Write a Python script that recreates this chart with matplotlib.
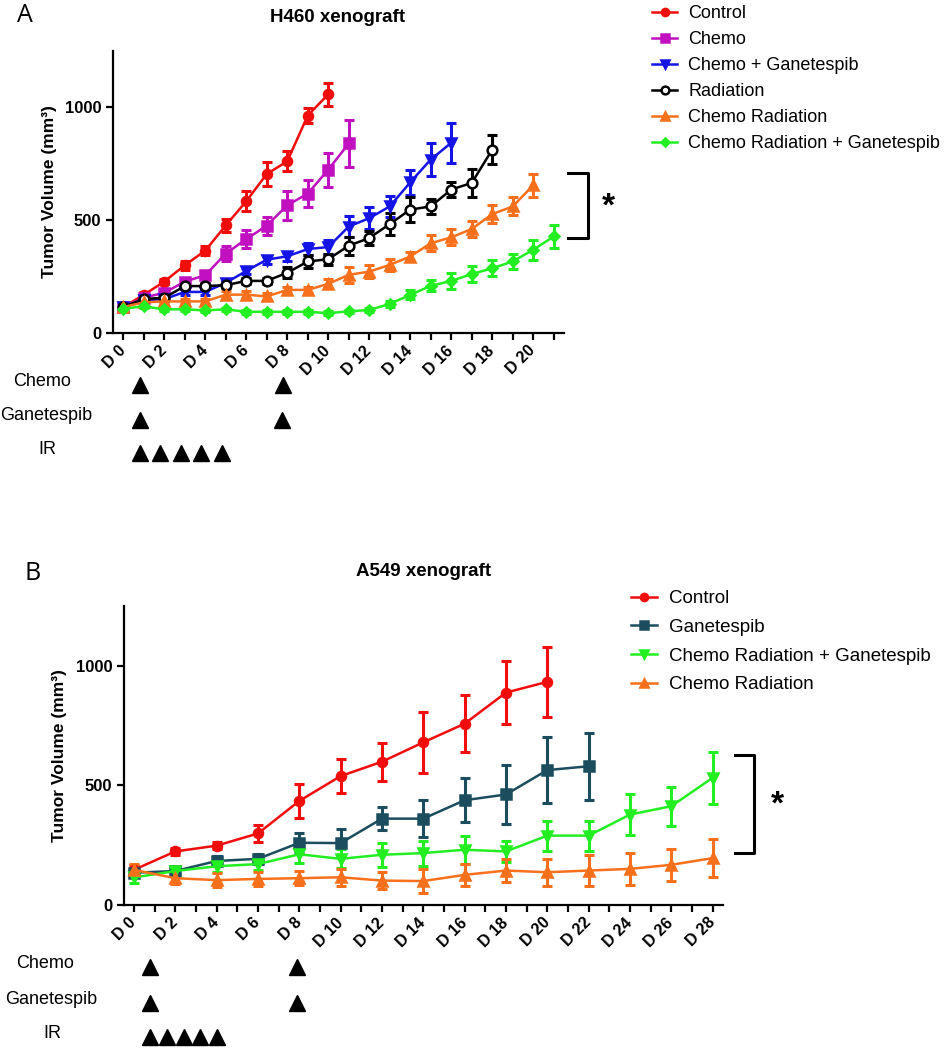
import matplotlib
matplotlib.use("Agg")
import matplotlib.pyplot as plt
from matplotlib.transforms import blended_transform_factory

plt.rcParams['font.family'] = ['Liberation Sans', 'DejaVu Sans']

W, H = 946, 1050

# ---------------- data: panel A (H460) ----------------
a_days = list(range(0, 22))
a_control = [115, 169, 228, 300, 365, 477, 584, 705, 761, 964, 1058]
a_control_err = [8, 12, 12, 20, 20, 30, 45, 55, 45, 35, 50]
a_chemo = [115, 157, 178, 228, 256, 352, 416, 476, 566, 618, 724, 840]
a_chemo_err = [8, 10, 12, 15, 15, 35, 40, 40, 65, 60, 75, 105]
a_chemo_gan = [115, 145, 150, 182, 182, 222, 275, 325, 340, 372, 381, 472, 509, 561, 668, 769, 843]
a_chemo_gan_err = [8, 10, 10, 15, 15, 12, 15, 18, 20, 25, 30, 45, 50, 45, 55, 75, 90]
a_radiation = [115, 151, 156, 208, 208, 212, 231, 231, 267, 317, 327, 387, 421, 483, 547, 561, 636, 665, 813]
a_radiation_err = [8, 10, 10, 15, 15, 12, 15, 15, 25, 30, 25, 40, 30, 50, 55, 35, 35, 60, 65]
a_chemo_rad = [115, 136, 140, 140, 140, 170, 170, 162, 191, 191, 218, 258, 272, 302, 339, 398, 424, 461, 527, 561, 655]
a_chemo_rad_err = [8, 10, 10, 12, 12, 15, 15, 15, 15, 15, 20, 35, 30, 25, 20, 35, 35, 35, 40, 40, 50]
a_crg = [108, 118, 105, 105, 100, 105, 94, 94, 94, 94, 88, 96, 102, 129, 169, 209, 231, 261, 287, 317, 369, 428]
a_crg_err = [8, 8, 8, 8, 8, 8, 8, 8, 8, 8, 8, 8, 10, 15, 20, 25, 35, 35, 35, 35, 45, 50]
a_tick_labels = ['D 0', 'D 2', 'D 4', 'D 6', 'D 8', 'D 10', 'D 12', 'D 14', 'D 16', 'D 18', 'D 20']
a_bracket = [422, 711]

# ---------------- data: panel B (A549) ----------------
b_days = list(range(0, 30, 2))
b_control = [147, 224, 248, 299, 435, 539, 599, 680, 758, 888, 933]
b_control_err = [20, 15, 15, 37, 71, 70, 80, 127, 119, 133, 145]
b_gan = [135, 142, 184, 193, 260, 259, 361, 361, 438, 462, 564, 580]
b_gan_err = [20, 15, 20, 20, 43, 58, 47, 77, 93, 124, 138, 141]
b_crg = [115, 142, 162, 171, 212, 193, 210, 217, 231, 224, 290, 290, 378, 413, 532]
b_crg_err = [25, 15, 25, 25, 35, 40, 50, 52, 58, 45, 63, 63, 85, 82, 108]
b_chemo_rad = [147, 112, 104, 109, 112, 116, 102, 100, 126, 144, 137, 144, 151, 168, 196]
b_chemo_rad_err = [25, 25, 30, 30, 30, 35, 35, 50, 45, 48, 57, 63, 68, 66, 80]
b_tick_labels = ['D 0', 'D 2', 'D 4', 'D 6', 'D 8', 'D 10', 'D 12', 'D 14',
                 'D 16', 'D 18', 'D 20', 'D 22', 'D 24', 'D 26', 'D 28']
b_bracket = [218, 629]

# dosing schedule (day positions of the arrowheads)
a_sched = {'Chemo': [0.8, 7.8], 'Ganetespib': [0.8, 7.75], 'IR': [0.8, 1.8, 2.8, 3.8, 4.8]}
b_sched = {'Chemo': [0.8, 7.9], 'Ganetespib': [0.8, 7.9], 'IR': [0.8, 1.6, 2.4, 3.2, 4.0]}

RED = '#f20d0d'
MAGENTA = '#c010c0'
BLUE = '#1414e6'
ORANGE = '#f8701c'
GREEN = '#22ee22'
TEAL = '#1b4d5e'


def fx(x):
    return x / W


def fy(y):
    return 1 - y / H


fig = plt.figure(figsize=(W / 100, H / 100), dpi=100)
axA = fig.add_axes([fx(113), fy(333), (564 - 113) / W, (333 - 51) / H])
axB = fig.add_axes([fx(124), fy(905), (723 - 124) / W, (905 - 606) / H])


def series(ax, x, y, err, color, marker, label, ms=6.5, mfc=None):
    ax.errorbar(x[:len(y)], y, yerr=err, fmt='none', ecolor=color, elinewidth=2.2,
                capsize=3.8, capthick=2.2, zorder=2)
    line, = ax.plot(x[:len(y)], y, color=color, lw=1.8, marker=marker, ms=ms,
                    mfc=mfc if mfc else color, mec=color, mew=1.8, label=label, zorder=3)
    return line


def style_axis(ax, xmax, labels):
    for s in ['top', 'right']:
        ax.spines[s].set_visible(False)
    for s in ['left', 'bottom']:
        ax.spines[s].set_linewidth(1.6)
    ax.set_ylim(0, 1250)
    ax.set_yticks([0, 500, 1000])
    ax.set_xticks([i * 2 for i in range(len(labels))])
    ax.set_xticks(range(0, int(xmax) + 1), minor=True)
    ax.set_xticklabels(labels, rotation=45, ha='right', va='center',
                       rotation_mode='anchor', fontweight='bold', fontsize=11.5)
    ax.tick_params(which='both', direction='out', length=5, width=1.6)
    ax.tick_params(axis='x', which='major', pad=6)
    for t in ax.get_yticklabels():
        t.set_fontweight('bold')
        t.set_fontsize(12)
    ax.set_ylabel('Tumor Volume (mm³)', fontweight='bold', fontsize=12.5)


# ---------------- panel A ----------------
hA = [
    series(axA, a_days, a_control, a_control_err, RED, 'o', 'Control'),
    series(axA, a_days, a_chemo, a_chemo_err, MAGENTA, 's', 'Chemo'),
    series(axA, a_days, a_chemo_gan, a_chemo_gan_err, BLUE, 'v', 'Chemo + Ganetespib'),
    series(axA, a_days, a_radiation, a_radiation_err, 'black', 'o', 'Radiation', ms=7, mfc='white'),
    series(axA, a_days, a_chemo_rad, a_chemo_rad_err, ORANGE, '^', 'Chemo Radiation'),
    series(axA, a_days, a_crg, a_crg_err, GREEN, 'D', 'Chemo Radiation + Ganetespib', ms=5),
]
axA.set_xlim(-0.5, 21.5)
style_axis(axA, 21, a_tick_labels)
axA.yaxis.set_label_coords(-0.124, 0.5)
fig.text(fx(338), fy(17), 'H460 xenograft', ha='center', va='center',
         fontweight='bold', fontsize=13.5)

fig.legend(handles=hA, loc='upper left', bbox_to_anchor=(fx(652), fy(5)), frameon=False,
           fontsize=13, handlelength=1.4, handletextpad=0.6, labelspacing=0.5,
           markerscale=0.8, borderpad=0, borderaxespad=0)

# significance bracket A
bx0, bx1 = 21.7, 22.65
axA.plot([bx0, bx1, bx1, bx0], [a_bracket[1], a_bracket[1], a_bracket[0], a_bracket[0]],
         color='black', lw=2.2, clip_on=False)
fig.text(fx(608), fy(207), '*', ha='center', va='center', fontsize=24, fontweight='bold')

# ---------------- panel B ----------------
hB = [
    series(axB, b_days, b_control, b_control_err, RED, 'o', 'Control'),
    series(axB, b_days, b_gan, b_gan_err, TEAL, 's', 'Ganetespib'),
    series(axB, b_days, b_crg, b_crg_err, GREEN, 'v', 'Chemo Radiation + Ganetespib'),
    series(axB, b_days, b_chemo_rad, b_chemo_rad_err, ORANGE, '^', 'Chemo Radiation'),
]
axB.set_xlim(-0.48, 28.5)
style_axis(axB, 28, b_tick_labels)
axB.yaxis.set_label_coords(-0.095, 0.5)
fig.text(fx(424), fy(572), 'A549 xenograft', ha='center', va='center',
         fontweight='bold', fontsize=13.5)

fig.legend(handles=hB, loc='upper left', bbox_to_anchor=(fx(631), fy(590)), frameon=False,
           fontsize=13.5, handlelength=1.4, handletextpad=0.6, labelspacing=0.62,
           markerscale=0.8, borderpad=0, borderaxespad=0)

cx0, cx1 = 29.06, 29.98
axB.plot([cx0, cx1, cx1, cx0], [b_bracket[1], b_bracket[1], b_bracket[0], b_bracket[0]],
         color='black', lw=2.2, clip_on=False)
fig.text(fx(777), fy(805), '*', ha='center', va='center', fontsize=24, fontweight='bold')

# panel letters
fig.text(fx(17), fy(16), 'A', ha='left', va='center', fontsize=18, family='Open Sans')
fig.text(fx(24), fy(573), 'B', ha='left', va='center', fontsize=18, family='Open Sans')


# dosing schedule rows
def schedule(ax, sched, rows_y, label_x):
    tr = blended_transform_factory(ax.transData, fig.transFigure)
    for (name, days), ry, lx in zip(sched.items(), rows_y, label_x):
        fig.text(fx(lx), fy(ry - 4), name, ha='center', va='center', fontsize=13)
        ax.plot(days, [fy(ry)] * len(days), ls='none', marker='^', ms=11, color='black',
                transform=tr, clip_on=False)


schedule(axA, a_sched, [385, 420, 453], [42, 46, 47])
schedule(axB, b_sched, [967, 1003, 1037], [45, 51, 52])

fig.savefig('out.png', dpi=100)
